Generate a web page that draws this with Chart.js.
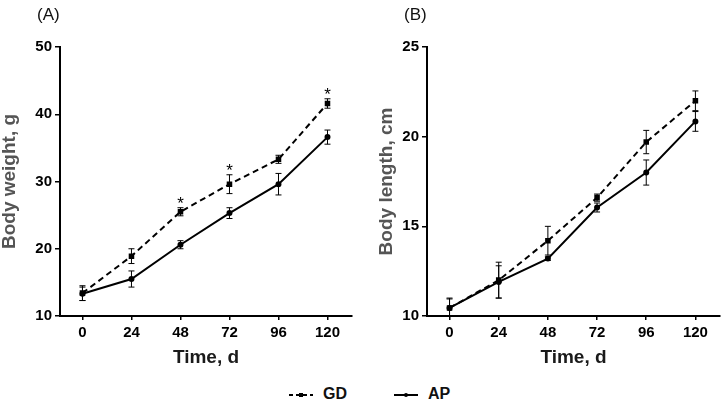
<!DOCTYPE html>
<html>
<head>
<meta charset="utf-8">
<script src="https://cdn.jsdelivr.net/npm/chart.js@4.4.1/dist/chart.umd.min.js"></script>
<style>
  body { margin: 0; background: #fff; font-family: "Liberation Sans", Arial, sans-serif; }
  #wrap { position: relative; width: 726px; height: 404px; }
  .panel { position: absolute; top: 0; width: 363px; height: 374px; }
  .tag { position: absolute; top: 5px; font-size: 17px; color: #111; }
  #legend { position: absolute; top: 385px; left: 0; width: 726px; height: 20px; }
  .item { position: absolute; top: 0; font-size: 16px; font-weight: bold; color: #111; }
  .item canvas { vertical-align: middle; margin-right: 10px; }
</style>
</head>
<body>
<div id="wrap">
  <div class="panel" style="left:0"><canvas id="weightChart"></canvas></div>
  <div class="panel" style="left:363px"><canvas id="lengthChart"></canvas></div>
  <div class="tag" style="left:37px">(A)</div>
  <div class="tag" style="left:404px">(B)</div>
  <div id="legend">
    <div class="item" style="left:289px"><canvas id="keyGD" width="24" height="10"></canvas>GD</div>
    <div class="item" style="left:394px"><canvas id="keyAP" width="24" height="10"></canvas>AP</div>
  </div>
</div>
<script>
// time points, days
let timeDays = [0, 24, 48, 72, 96, 120];

// body weight, g
let weightGD = [13.4, 18.9, 25.5, 29.6, 33.3, 41.6];
let weightGDErr = [1.1, 1.1, 0.6, 1.4, 0.6, 0.7];
let weightAP = [13.3, 15.5, 20.6, 25.3, 29.6, 36.6];
let weightAPErr = [1.0, 1.2, 0.6, 0.8, 1.6, 1.05];
let weightStars = [false, false, true, true, false, true];

// body length, cm
let lengthGD = [10.45, 12.0, 14.2, 16.6, 19.7, 22.0];
let lengthGDErr = [0.55, 1.0, 0.8, 0.2, 0.65, 0.55];
let lengthAP = [10.45, 11.9, 13.2, 16.05, 18.0, 20.85];
let lengthAPErr = [0.5, 0.9, 0.1, 0.25, 0.7, 0.55];
let lengthStars = [false, false, false, false, false, false];

let weightTicks = [10, 20, 30, 40, 50];
let lengthTicks = [10, 15, 20, 25];

function toPoints(values) {
    return timeDays.map((t, i) => ({ x: t, y: values[i] }));
}

// error bars + significance stars
const errorBars = {
    id: 'errorBars',
    afterDatasetsDraw(chart, args, opts) {
        const ctx = chart.ctx;
        const xs = chart.scales.x;
        const ys = chart.scales.y;
        ctx.save();
        ctx.strokeStyle = '#000';
        ctx.lineWidth = 1;
        chart.data.datasets.forEach(ds => {
            ds.data.forEach((p, i) => {
                let e = ds.errors[i];
                let px = xs.getPixelForValue(p.x);
                let top = ys.getPixelForValue(p.y + e);
                let bot = Math.min(ys.getPixelForValue(p.y - e), ys.bottom);
                ctx.beginPath();
                ctx.moveTo(px, top); ctx.lineTo(px, bot);
                ctx.moveTo(px - 3, top); ctx.lineTo(px + 3, top);
                if (bot < ys.bottom) { ctx.moveTo(px - 3, bot); ctx.lineTo(px + 3, bot); }
                ctx.stroke();
            });
        });
        let gd = chart.data.datasets[0];
        ctx.fillStyle = '#000';
        ctx.font = '17px "Liberation Sans"';
        ctx.textAlign = 'center';
        ctx.textBaseline = 'alphabetic';
        opts.stars.forEach((s, i) => {
            if (!s) return;
            let p = gd.data[i];
            let px = xs.getPixelForValue(p.x);
            let top = ys.getPixelForValue(p.y + gd.errors[i]);
            ctx.fillText('*', px, top + 1);
        });
        ctx.restore();
    }
};

function makeChart(id, gdVals, gdErr, apVals, apErr, stars, yTicks, yTitle, pad, yWidth) {
    const ctx = document.getElementById(id).getContext('2d');
    return new Chart(ctx, {
        type: 'line',
        data: {
            datasets: [{
                label: 'GD',
                data: toPoints(gdVals),
                errors: gdErr,
                borderColor: '#000',
                backgroundColor: '#000',
                borderWidth: 2,
                borderDash: [6, 4],
                pointStyle: 'rect',
                pointRadius: 2.5,
                tension: 0
            }, {
                label: 'AP',
                data: toPoints(apVals),
                errors: apErr,
                borderColor: '#000',
                backgroundColor: '#000',
                borderWidth: 2,
                pointStyle: 'circle',
                pointRadius: 2,
                tension: 0
            }]
        },
        options: {
            responsive: true,
            maintainAspectRatio: false,
            animation: false,
            layout: { padding: pad },
            plugins: {
                legend: { display: false },
                tooltip: { enabled: false },
                errorBars: { stars: stars }
            },
            scales: {
                x: {
                    type: 'linear',
                    min: -11,
                    max: 132,
                    afterBuildTicks: s => { s.ticks = timeDays.map(v => ({ value: v })); },
                    afterFit: s => { s.height = 51; },
                    border: { color: '#000', width: 2 },
                    grid: { drawOnChartArea: false, tickLength: 4, tickColor: '#000', lineWidth: 1.5 },
                    ticks: { color: '#000', padding: 4, font: { family: 'Liberation Sans', size: 15, weight: 'bold' } },
                    title: { display: true, text: 'Time, d', color: '#1a1a1a', padding: 0,
                             font: { family: 'Liberation Sans', size: 19, weight: 'bold', lineHeight: 1 } }
                },
                y: {
                    min: yTicks[0],
                    max: yTicks[yTicks.length - 1],
                    afterBuildTicks: s => { s.ticks = yTicks.map(v => ({ value: v })); },
                    afterFit: s => { s.width = yWidth; },
                    border: { color: '#000', width: 2 },
                    grid: { drawOnChartArea: false, tickLength: 5, tickColor: '#000', lineWidth: 1.5 },
                    ticks: { color: '#000', padding: 3, font: { family: 'Liberation Sans', size: 15, weight: 'bold' } },
                    title: { display: true, text: yTitle, color: '#555', padding: 0,
                             font: { family: 'Liberation Sans', size: 19, weight: 'bold', lineHeight: 1 } }
                }
            }
        },
        plugins: [errorBars]
    });
}

makeChart('weightChart', weightGD, weightGDErr, weightAP, weightAPErr, weightStars,
    weightTicks, 'Body weight, g', { top: 47, left: 0, right: 11, bottom: 7 }, 60);
makeChart('lengthChart', lengthGD, lengthGDErr, lengthAP, lengthAPErr, lengthStars,
    lengthTicks, 'Body length, cm', { top: 47, left: 14, right: 4, bottom: 7 }, 50);

// legend keys
function drawKey(id, dashed, square) {
    const c = document.getElementById(id).getContext('2d');
    c.strokeStyle = '#000';
    c.fillStyle = '#000';
    c.lineWidth = 2;
    if (dashed) c.setLineDash([4, 3]);
    c.beginPath();
    c.moveTo(0, 5); c.lineTo(24, 5);
    c.stroke();
    if (square) c.fillRect(10, 3, 4, 4);
    else { c.beginPath(); c.arc(12, 5, 2, 0, Math.PI * 2); c.fill(); }
}
drawKey('keyGD', true, true);
drawKey('keyAP', false, false);
</script>
</body>
</html>
